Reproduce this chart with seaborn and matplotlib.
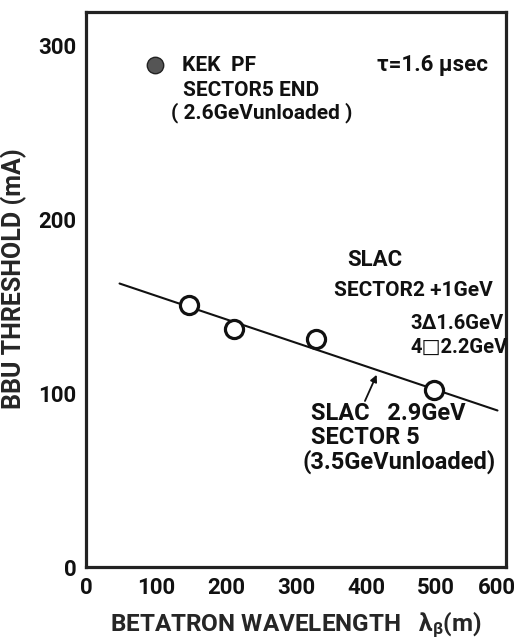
import numpy as np
import pandas as pd
import matplotlib
matplotlib.use('Agg')
import matplotlib.pyplot as plt
import matplotlib.transforms as mtrans
import seaborn as sns

wavelength = [147, 211, 329, 497]
threshold = [150.5, 137, 131, 101.5]

# fitted line for SLAC sector 5
fit_x = [48, 588]
fit_y = [163, 90]

# KEK PF legend symbol
kek_x = [98]
kek_y = [288.5]

x_ticks = [0, 100, 200, 300, 400, 500, 600]
y_ticks = [0, 100, 200, 300]

sns.set_theme(style='white')
plt.rcParams['font.family'] = ['Roboto', 'DejaVu Sans']
plt.rcParams['font.weight'] = 'bold'
plt.rcParams['mathtext.default'] = 'regular'

fig = plt.figure(figsize=(5.21, 6.4), dpi=100)
ax = fig.add_axes([0.165, 0.114, 0.806, 0.867])

pts = pd.DataFrame({'x': wavelength, 'y': threshold})
line = pd.DataFrame({'x': fit_x, 'y': fit_y})
sns.lineplot(data=line, x='x', y='y', ax=ax, color='#111111', linewidth=1.5)
sns.scatterplot(data=pts, x='x', y='y', ax=ax, s=170, facecolor='white',
                edgecolor='#111111', linewidth=2.3, zorder=3)
sns.scatterplot(x=kek_x, y=kek_y, ax=ax, s=140, color='#555555',
                edgecolor='#222222', linewidth=1.0, zorder=3)

ax.set_xlim(0, 600)
ax.set_ylim(0, 319)
ax.set_xticks(x_ticks)
ax.set_yticks(y_ticks)
ax.tick_params(direction='in', length=6, width=1.5, labelsize=16,
               colors='#111111', pad=7)
for lab in ax.get_xticklabels() + ax.get_yticklabels():
    lab.set_fontweight('bold')
# keep the last x label inside the picture
last = ax.get_xticklabels()[-1]
last.set_transform(last.get_transform() +
                   mtrans.ScaledTranslation(-9 / 100, 0, fig.dpi_scale_trans))
for sp in ax.spines.values():
    sp.set_linewidth(2.3)
    sp.set_color('#222222')

ax.set_xlabel(r'BETATRON WAVELENGTH   $\lambda_{\beta}$(m)', fontsize=17.5,
              fontweight='bold', labelpad=8)
ax.set_ylabel('BBU THRESHOLD (mA)', fontsize=18, fontweight='bold',
              labelpad=8)
ax.yaxis.label.set_y(0.52)

def note(x, y, s, size=15):
    ax.text(x, y, s, fontsize=size, fontweight='bold', color='#111111',
            va='center')

note(137, 288.5, 'KEK  PF', 15)
note(138, 274, 'SECTOR5 END', 15)
note(122, 261, '( 2.6GeVunloaded )', 15)
note(416, 288.5, 'τ=1.6 μsec', 16)
note(373, 176.4, 'SLAC', 16)
note(355, 159, 'SECTOR2 +1GeV', 15)
note(464, 140, '3Δ1.6GeV', 14.5)
note(464, 126, '4□2.2GeV', 14.5)
note(322, 88.5, 'SLAC   2.9GeV', 17)
note(322, 74.7, 'SECTOR 5', 17)
note(309, 60.3, '(3.5GeVunloaded)', 17)

ax.annotate('', xy=(417, 112), xytext=(397, 94),
            arrowprops=dict(arrowstyle='-|>', color='#111111', lw=1.3,
                            mutation_scale=10))

fig.savefig('out.png', dpi=100, facecolor='white')
